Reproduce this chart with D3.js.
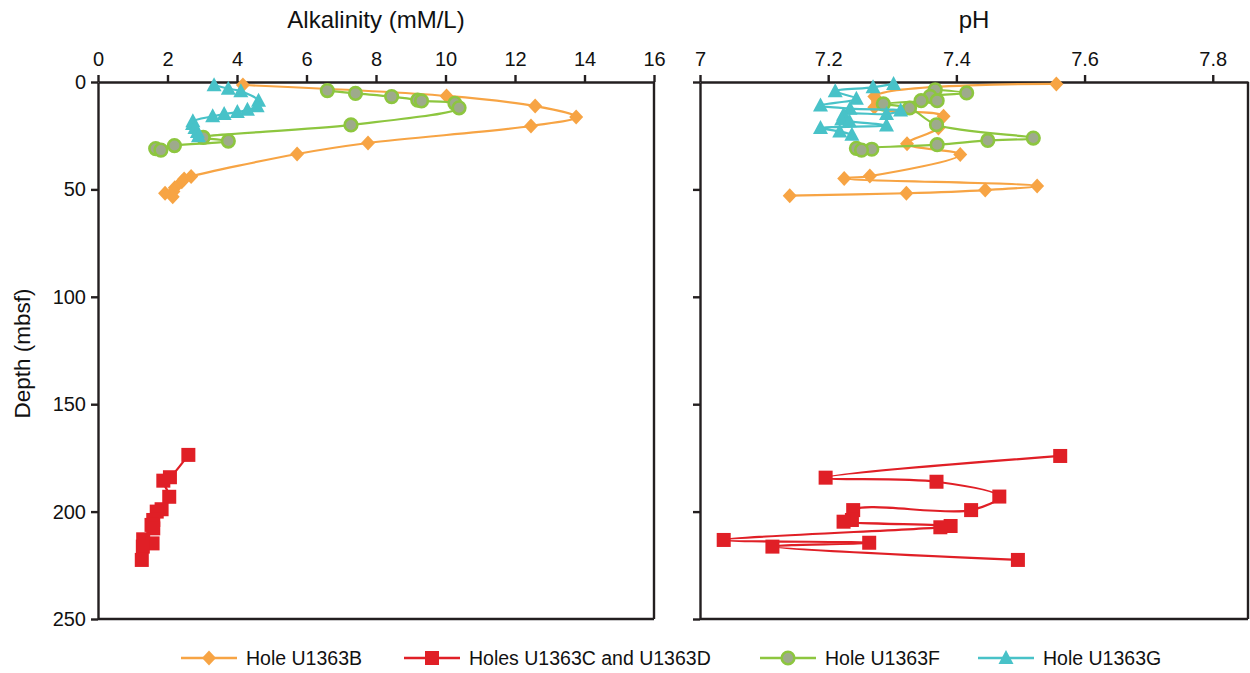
<!DOCTYPE html>
<html>
<head>
<meta charset="utf-8">
<script src="https://cdn.jsdelivr.net/npm/d3@7"></script>
<style>
    body { margin: 0; background: #fff; }
    svg { font-family: "Liberation Sans", Arial, sans-serif; }
    .axis path, .axis line { stroke: #231f20; stroke-width: 2.4; }
    .axis text { font-size: 20px; fill: #111; }
</style>
</head>
<body>
<svg id="chart" width="1250" height="673"></svg>
<script>
// Alkalinity (mM/L) vs depth (mbsf)
const alkDepthB = [1.4, 6.5, 11.2, 16.3, 20.5, 28.4, 33.5, 44, 45.2, 46.4, 49.2, 51, 51.8, 53.4];
const alkB = [4.17, 10.03, 12.58, 13.76, 12.46, 7.77, 5.73, 2.68, 2.48, 2.41, 2.21, 2.17, 1.93, 2.15];

const alkDepthCD = [173.6, 184, 185.6, 193.1, 198.9, 200, 203.9, 206.2, 207.8, 212.9, 214.8, 216.3, 222.5];
const alkCD = [2.6, 2.07, 1.88, 2.05, 1.83, 1.69, 1.59, 1.54, 1.59, 1.3, 1.57, 1.29, 1.26];

const alkDepthF = [4.0, 5.3, 6.8, 8.4, 8.8, 9.9, 12, 20, 25.8, 27.5, 29.6, 31, 31.7];
const alkF = [6.6, 7.41, 8.45, 9.2, 9.31, 10.27, 10.39, 7.28, 3.03, 3.75, 2.2, 1.66, 1.81];

const alkDepthG = [1.5, 3.1, 4.3, 8.7, 11.3, 12.9, 14.0, 14.9, 16.0, 18.3, 19.5, 21.4, 23.3, 25.3];
const alkG = [3.34, 3.75, 4.11, 4.62, 4.58, 4.30, 4.01, 3.63, 3.30, 2.73, 2.72, 2.79, 2.86, 2.89];

// pH vs depth (mbsf)
const phDepthB = [0.9, 6.7, 11.8, 16, 21.4, 28.7, 33.8, 43.8, 44.9, 48.4, 50.3, 51.8, 52.9];
const phB = [7.556, 7.272, 7.272, 7.38, 7.372, 7.323, 7.406, 7.265, 7.225, 7.526, 7.445, 7.322, 7.14];

const phDepthCD = [174.1, 184.2, 186.1, 193, 199.3, 199.3, 203.9, 204.7, 206.7, 207.3, 213.2, 214.5, 216.3, 222.5];
const phCD = [7.562, 7.196, 7.369, 7.467, 7.423, 7.239, 7.237, 7.224, 7.391, 7.375, 7.037, 7.264, 7.113, 7.496];

const phDepthF = [3.6, 5.1, 6.7, 8.7, 8.7, 10.2, 12.1, 19.9, 26.1, 27.2, 29.2, 30.9, 31.3, 31.7];
const phF = [7.367, 7.416, 7.359, 7.345, 7.37, 7.286, 7.327, 7.369, 7.52, 7.449, 7.37, 7.244, 7.268, 7.252];

const phDepthG = [0.9, 2.5, 4.3, 7.8, 10.9, 12.4, 13.3, 14.9, 15.2, 17.5, 18.3, 20.2, 21.4, 23, 24.5];
const phG = [7.302, 7.27, 7.211, 7.244, 7.188, 7.234, 7.313, 7.291, 7.224, 7.221, 7.233, 7.291, 7.188, 7.218, 7.237];

const alkTicks = [0, 2, 4, 6, 8, 10, 12, 14, 16];
const phTicks = [7, 7.2, 7.4, 7.6, 7.8];
const depthTicks = [0, 50, 100, 150, 200, 250];

const seriesNames = ["Hole U1363B", "Holes U1363C and U1363D", "Hole U1363F", "Hole U1363G"];

const svg = d3.select("#chart");
const plotTop = 82, plotBottom = 619;

const y = d3.scaleLinear().domain([0, 250]).range([plotTop, plotBottom]);
const xAlk = d3.scaleLinear().domain([0, 16]).range([98, 654]);
const xPh = d3.scaleLinear().domain([7, 7.855]).range([700, 1248]);

const styles = [
    { color: "#f7a444", shape: "diamond" },
    { color: "#e01f26", shape: "square" },
    { color: "#8dc63f", shape: "circle" },
    { color: "#48c2c8", shape: "triangle" }
];

function marker(g, shape, color) {
    if (shape === "diamond") {
        g.append("path").attr("d", "M0,-7.5L7,0L0,7.5L-7,0Z").attr("fill", color);
    } else if (shape === "square") {
        g.append("rect").attr("x", -7).attr("y", -7).attr("width", 14).attr("height", 14).attr("fill", color);
    } else if (shape === "circle") {
        g.append("circle").attr("r", 6.3).attr("fill", "#9eaa8c").attr("stroke", color).attr("stroke-width", 2.6);
    } else {
        g.append("path").attr("d", "M0,-8L7.5,6L-7.5,6Z").attr("fill", color);
    }
}

function drawPanel(x, ticks, sets, showLabels, title) {
    const g = svg.append("g");
    const x0 = x.range()[0], x1 = x.range()[1];

    // frame
    g.append("line").attr("x1", x1).attr("x2", x1).attr("y1", plotTop).attr("y2", plotBottom)
        .attr("stroke", "#231f20").attr("stroke-width", 2.4);
    g.append("line").attr("x1", x0).attr("x2", x1).attr("y1", plotBottom).attr("y2", plotBottom)
        .attr("stroke", "#231f20").attr("stroke-width", 2.4);

    g.append("g").attr("class", "axis")
        .attr("transform", `translate(0,${plotTop})`)
        .call(d3.axisTop(x).tickValues(ticks).tickSize(7).tickSizeOuter(0).tickPadding(9)
            .tickFormat(d3.format("")));

    const yAxis = g.append("g").attr("class", "axis")
        .attr("transform", `translate(${x0},0)`)
        .call(d3.axisLeft(y).tickValues(depthTicks).tickSize(7).tickSizeOuter(0).tickPadding(5));
    if (!showLabels) yAxis.selectAll("text").remove();

    g.append("text").attr("x", (x0 + x1) / 2).attr("y", 28).attr("text-anchor", "middle")
        .attr("font-size", 24).attr("fill", "#111").text(title);

    const line = d3.line()
        .x(d => x(d[1]))
        .y(d => y(d[0]))
        .curve(d3.curveCatmullRom.alpha(0.5));

    sets.forEach((s, i) => {
        const pts = s.depth.map((d, k) => [d, s.vals[k]]);
        g.append("path").datum(pts).attr("d", line)
            .attr("fill", "none").attr("stroke", styles[i].color).attr("stroke-width", 2.2);
        pts.forEach(p => {
            const m = g.append("g").attr("transform", `translate(${x(p[1])},${y(p[0])})`);
            marker(m, styles[i].shape, styles[i].color);
        });
    });
}

drawPanel(xAlk, alkTicks, [
    { depth: alkDepthB, vals: alkB },
    { depth: alkDepthCD, vals: alkCD },
    { depth: alkDepthF, vals: alkF },
    { depth: alkDepthG, vals: alkG }
], true, "Alkalinity (mM/L)");

drawPanel(xPh, phTicks, [
    { depth: phDepthB, vals: phB },
    { depth: phDepthCD, vals: phCD },
    { depth: phDepthF, vals: phF },
    { depth: phDepthG, vals: phG }
], false, "pH");

// y title
svg.append("text")
    .attr("transform", `translate(30,${(plotTop + plotBottom) / 2 + 3}) rotate(-90)`)
    .attr("text-anchor", "middle").attr("font-size", 22.5).attr("fill", "#111")
    .text("Depth (mbsf)");

// legend
const legendX = [181, 404, 760, 978];
const legend = svg.append("g").attr("transform", "translate(0,658)");
seriesNames.forEach((name, i) => {
    const lg = legend.append("g").attr("transform", `translate(${legendX[i]},0)`);
    lg.append("line").attr("x1", 0).attr("x2", 56).attr("stroke", styles[i].color).attr("stroke-width", 2.4);
    marker(lg.append("g").attr("transform", "translate(28,0)"), styles[i].shape, styles[i].color);
    lg.append("text").attr("x", 65).attr("y", 7).attr("font-size", 19.5).attr("fill", "#111").text(name);
});
</script>
</body>
</html>
